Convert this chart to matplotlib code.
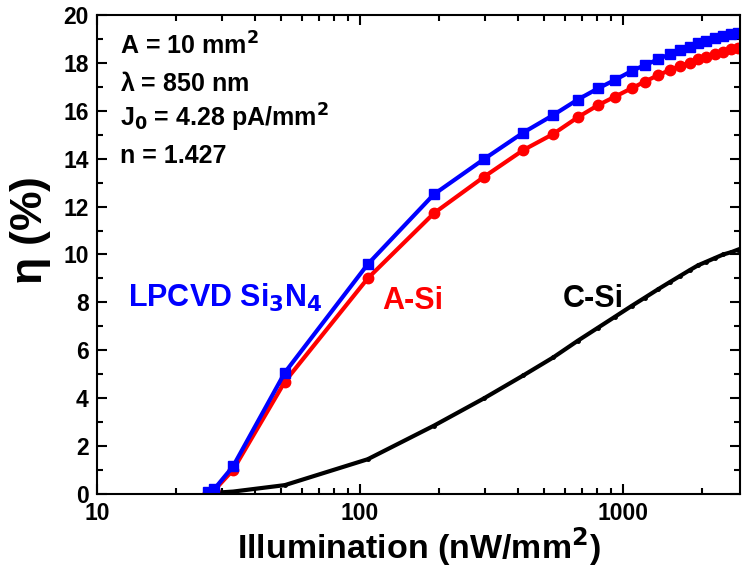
import matplotlib
matplotlib.use("Agg")
import matplotlib.pyplot as plt
from matplotlib.ticker import LogLocator, FixedLocator, MultipleLocator, NullFormatter

plt.rcParams["font.family"] = ["Liberation Sans", "DejaVu Sans"]
plt.rcParams["font.weight"] = "bold"
plt.rcParams["mathtext.default"] = "bf"

# illumination (nW/mm^2) shared by the three cells
illum = [26.4, 27.9, 32.9, 51.8, 107, 191, 297, 418, 543, 674, 806, 933, 1079,
         1213, 1362, 1510, 1648, 1798, 1933, 2080, 2237, 2407, 2588, 2735]
eta_sin = [0.1, 0.2, 1.15, 5.07, 9.59, 12.51, 13.99, 15.09, 15.82, 16.47, 16.94,
           17.29, 17.66, 17.91, 18.15, 18.37, 18.54, 18.68, 18.82, 18.93, 19.03,
           19.12, 19.19, 19.24]
eta_asi = [0.05, 0.15, 1.0, 4.69, 9.0, 11.72, 13.25, 14.36, 15.03, 15.73, 16.24,
           16.59, 16.94, 17.22, 17.49, 17.70, 17.87, 18.01, 18.15, 18.26, 18.37,
           18.47, 18.57, 18.63]
eta_csi = [0.02, 0.05, 0.1, 0.37, 1.45, 2.85, 4.0, 4.95, 5.7, 6.4, 6.95, 7.4,
           7.85, 8.2, 8.55, 8.85, 9.1, 9.35, 9.55, 9.7, 9.85, 10.0, 10.1, 10.2]

fig = plt.figure(figsize=(7.43, 5.73), dpi=100)
ax = fig.add_axes([0.1306, 0.1379, 0.8654, 0.8359])

ax.plot(illum, eta_csi, color="black", lw=3, marker="o", ms=2.5)
ax.plot(illum, eta_asi, color="red", lw=3, marker="o", ms=7.5)
ax.plot(illum, eta_sin, color="blue", lw=3, marker="s", ms=7)

ax.set_xscale("log")
ax.set_xlim(10, 2790)
ax.set_ylim(0, 20)
ax.xaxis.set_major_locator(FixedLocator([10, 100, 1000]))
ax.xaxis.set_major_formatter(plt.FuncFormatter(lambda v, p: f"{v:g}"))
ax.xaxis.set_minor_locator(LogLocator(base=10, subs=range(2, 10)))
ax.xaxis.set_minor_formatter(NullFormatter())
ax.yaxis.set_major_locator(MultipleLocator(2))
ax.yaxis.set_minor_locator(MultipleLocator(1))

for s in ax.spines.values():
    s.set_linewidth(1.5)
ax.tick_params(which="both", direction="in", top=True, right=True, width=1.5)
ax.tick_params(which="major", length=7, labelsize=16.5, pad=6)
ax.tick_params(which="minor", length=4)
for lab in ax.get_xticklabels() + ax.get_yticklabels():
    lab.set_fontweight("bold")

ax.set_xlabel("Illumination (nW/mm$^2$)", fontsize=24.5, fontweight="bold", labelpad=0)
ax.set_ylabel(r"$\mathregular{\eta}$ (%)", fontsize=32, fontweight="bold")
ax.yaxis.set_label_coords(-0.068, 0.55)

params = ["A = 10 mm$^2$", "$\\mathregular{\\lambda}$ = 850 nm",
          "J$_0$ = 4.28 pA/mm$^2$", "n = 1.427"]
for i, t in enumerate(params):
    ax.text(0.036, 0.918 - i * 0.076, t, transform=ax.transAxes, fontsize=18,
            fontweight="bold", va="baseline")

ax.text(0.048, 0.391, "LPCVD Si$_3$N$_4$", transform=ax.transAxes, color="blue",
        fontsize=22, fontweight="bold", va="baseline")
ax.text(0.444, 0.386, "A-Si", transform=ax.transAxes, color="red",
        fontsize=22, fontweight="bold", va="baseline")
ax.text(0.724, 0.391, "C-Si", transform=ax.transAxes, color="black",
        fontsize=22, fontweight="bold", va="baseline")

fig.savefig("out.png", dpi=100)
